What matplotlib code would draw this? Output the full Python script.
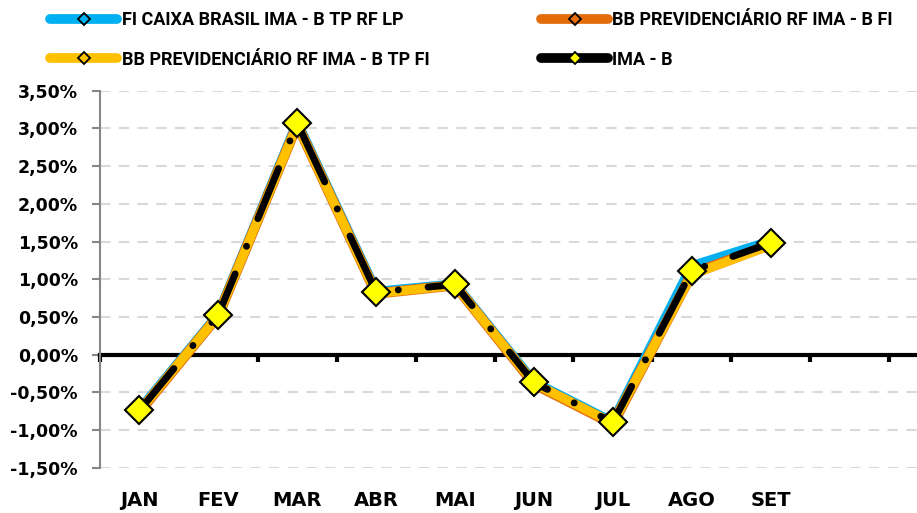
import matplotlib
matplotlib.use('Agg')
import matplotlib.pyplot as plt
from matplotlib.lines import Line2D

# Dados (rentabilidade mensal, %)
meses = ['JAN', 'FEV', 'MAR', 'ABR', 'MAI', 'JUN', 'JUL', 'AGO', 'SET']
caixa_ima_b = [-0.74, 0.53, 3.07, 0.83, 0.93, -0.37, -0.90, 1.17, 1.50]
bb_ima_b = [-0.76, 0.52, 3.05, 0.81, 0.92, -0.39, -0.92, 1.07, 1.46]
bb_ima_b_tp = [-0.75, 0.52, 3.05, 0.81, 0.92, -0.38, -0.91, 1.06, 1.45]
ima_b = [-0.74, 0.53, 3.07, 0.83, 0.93, -0.37, -0.90, 1.11, 1.48]

nomes = ['FI CAIXA BRASIL IMA - B TP RF LP', 'BB PREVIDENCIÁRIO RF IMA - B FI',
         'BB PREVIDENCIÁRIO RF IMA - B TP FI', 'IMA - B']
y_ticks = [-1.5, -1.0, -0.5, 0.0, 0.5, 1.0, 1.5, 2.0, 2.5, 3.0, 3.5]
y_labels = ['-1,50%', '-1,00%', '-0,50%', '0,00%', '0,50%', '1,00%', '1,50%',
            '2,00%', '2,50%', '3,00%', '3,50%']
n_colunas = 12

fonte = ['DejaVu Sans']
fonte_leg = ['Roboto', 'DejaVu Sans']

fig = plt.figure(figsize=(9.17, 5.13), dpi=100)
W, H = 917, 513
ax = fig.add_axes([100 / W, 1 - 467.7 / H, (n_colunas * 78.9) / W, (467.7 - 90.7) / H])

x = list(range(len(meses)))
ax.plot(x, caixa_ima_b, color='#00B0F0', lw=7.5, solid_capstyle='round', zorder=3)
ax.plot(x, bb_ima_b, color='#E46C0A', lw=7.5, solid_capstyle='round', zorder=4)
ax.plot(x, bb_ima_b_tp, color='#FFC000', lw=6.5, solid_capstyle='round', zorder=5)
ax.plot(x, ima_b, color='black', lw=5, linestyle=(0, (7.8, 4.3, 0.01, 4.3)),
        dash_capstyle='round', zorder=6)
ax.plot(x, ima_b, linestyle='none', marker='D', markersize=14,
        markerfacecolor='#FFFF00', markeredgecolor='black', markeredgewidth=1.5, zorder=7)

ax.set_xlim(-0.5, n_colunas - 0.5)
ax.set_ylim(-1.5, 3.5)
ax.set_yticks(y_ticks)
ax.set_yticklabels(y_labels, fontfamily=fonte, fontweight='bold', fontsize=12.5)
ax.set_xticks(x)
ax.set_xticklabels(meses, fontfamily=fonte, fontweight='bold', fontsize=14)
ax.tick_params(axis='x', length=0, pad=17)
ax.tick_params(axis='y', length=6, width=1.5, color='#868686', pad=10)
ax.grid(axis='y', color='#d9d9d9', lw=1.5, dashes=(5, 4))
ax.set_axisbelow(True)
for s in ['top', 'right', 'bottom']:
    ax.spines[s].set_visible(False)
ax.spines['left'].set_color('#868686')
ax.spines['left'].set_linewidth(1.5)

# eixo no zero com marcas entre as categorias
sec = ax.secondary_xaxis(1.5 / 5.0)
sec.set_xticks([k - 0.5 for k in range(n_colunas + 1)])
sec.set_xticklabels([])
sec.tick_params(length=5, width=3, color='black')
sec.spines['bottom'].set_linewidth(3)
sec.spines['bottom'].set_color('black')
sec.set_zorder(2)

def item(cor, recheio):
    return Line2D([], [], color=cor, lw=7, solid_capstyle='round', marker='D', markersize=6,
                  markerfacecolor=recheio, markeredgecolor='black', markeredgewidth=1.3)

handles = [item('#00B0F0', '#00B0F0'), item('#FFC000', '#FFC000'),
           item('#E46C0A', '#E46C0A'), item('black', '#FFFF00')]
rotulos = [nomes[0], nomes[2], nomes[1], nomes[3]]
fig.legend(handles, rotulos, loc='upper left', bbox_to_anchor=(34 / W, 1.01), ncol=2,
           frameon=False, prop={'family': fonte_leg, 'weight': 'bold', 'size': 13},
           handlelength=3.7, handletextpad=0.25, columnspacing=6.2, labelspacing=1.2)

fig.savefig('out.png', dpi=100)
